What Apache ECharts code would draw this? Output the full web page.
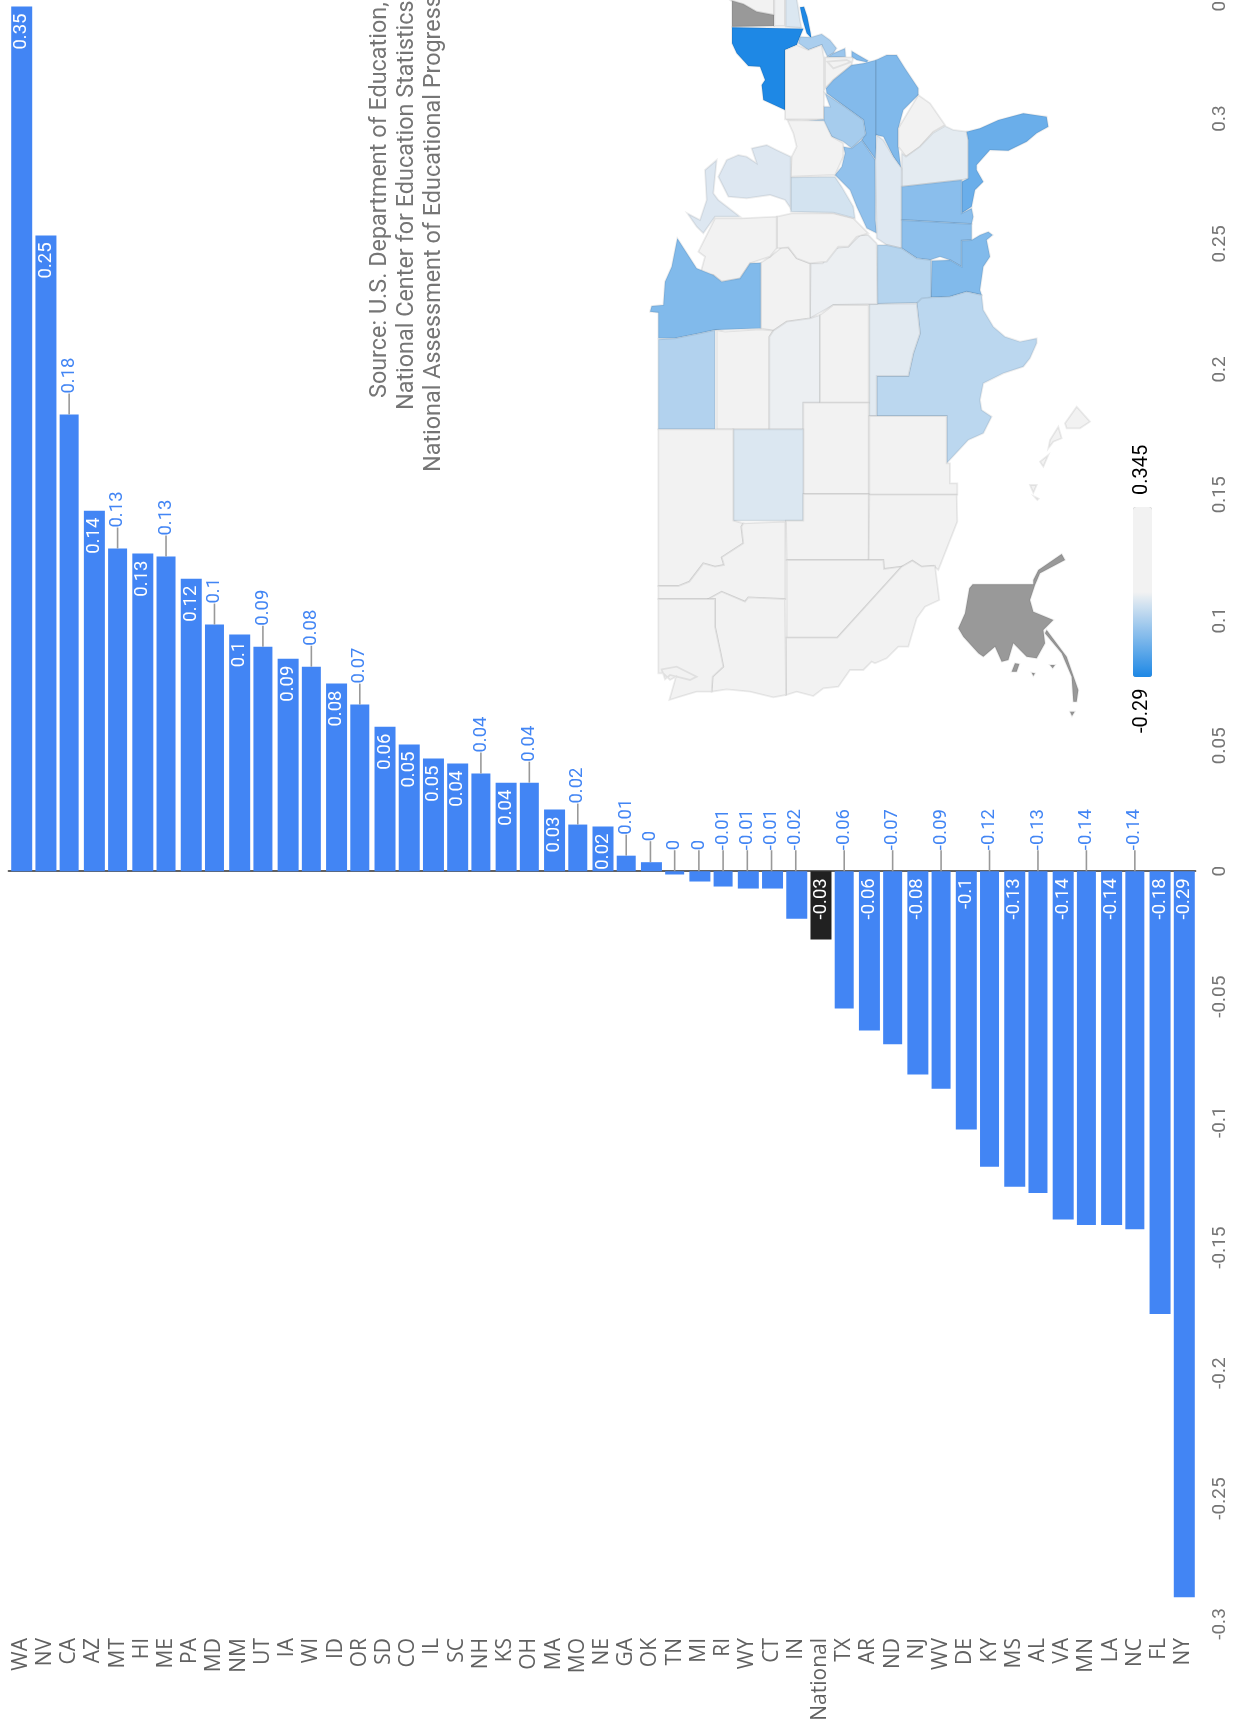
<!DOCTYPE html>
<html>
<head>
<meta charset="utf-8">
<title>State score change</title>
<script src="https://cdn.jsdelivr.net/npm/echarts@6/dist/echarts.min.js"></script>
<style>
  html, body { margin: 0; background: #fff; }
  #chart { width: 1238px; height: 1722px; }
</style>
</head>
<body>
<div id="chart"></div>
<script>
const categories = ['WA','NV','CA','AZ','MT','HI','ME','PA','MD','NM','UT','IA','WI','ID','OR','SD','CO','IL','SC','NH','KS','OH','MA','MO','NE','GA','OK','TN','MI','RI','WY','CT','IN','National','TX','AR','ND','NJ','WV','DE','KY','MS','AL','VA','MN','LA','NC','FL','NY']
const values = [0.3446,0.2534,0.182,0.1437,0.1286,0.1266,0.1254,0.1166,0.0983,0.0943,0.0895,0.0847,0.0815,0.0748,0.0664,0.0576,0.0505,0.0449,0.0429,0.0389,0.0353,0.0353,0.0246,0.0186,0.0178,0.0062,0.0036,-0.0013,-0.0041,-0.0061,-0.0069,-0.0069,-0.0189,-0.0272,-0.0547,-0.0635,-0.069,-0.081,-0.0867,-0.1029,-0.1178,-0.1257,-0.1282,-0.1388,-0.141,-0.141,-0.1427,-0.1765,-0.2893]
const valueLabels = ['0.35','0.25','0.18','0.14','0.13','0.13','0.13','0.12','0.1','0.1','0.09','0.09','0.08','0.08','0.07','0.06','0.05','0.05','0.04','0.04','0.04','0.04','0.03','0.02','0.02','0.01','0','0','0','-0.01','-0.01','-0.01','-0.02','-0.03','-0.06','-0.06','-0.07','-0.08','-0.09','-0.1','-0.12','-0.13','-0.13','-0.14','-0.14','-0.14','-0.14','-0.18','-0.29']
// labels drawn above the bar on a stem
const stemmed = ['CA','MT','ME','MD','UT','WI','OR','NH','OH','MO','GA','OK','TN','MI','RI','WY','CT','IN','TX','ND','WV','KY','AL','MN','NC']
// these come out a little thinner in the picture
const thinBars = ['CA','MT','ME','MD','UT','WI','OR','NH','OH','MO','GA','TN','RI','TX','ND','WV','KY','AL','MN','NC']
const highlighted = 'National'

const sourceLines = ['Source: U.S. Department of Education,', 'National Center for Education Statistics,', 'National Assessment of Educational Progress']
const legendMin = -0.29
const legendMax = 0.345

// state outlines (north points left)
const stateOutlines = {
  NH: [[[385,-4],[522,-4],[522,45],[470,35],[430,12],[392,2]]],
  VT: [[[396,2],[430,12],[470,35],[522,45],[522,78],[396,80]]],
  MA: [[[523,-4],[555,-4],[555,78],[523,78]]],
  CT: [[[557,-4],[590,-4],[595,25],[600,60],[605,84],[557,80]]],
  NY: [[[396,82],[610,86],[600,110],[590,135],[555,150],[555,330],[490,300],[485,255],[495,240],[480,200],[445,198],[410,160],[396,130]],
       [[600,22],[612,20],[622,50],[632,100],[634,115],[620,100],[608,60]]],
  NJ: [[[600,110],[632,112],[665,102],[690,120],[710,145],[700,160],[682,170],[665,135],[625,150],[595,130]]],
  DE: [[[700,160],[735,145],[737,170],[682,172]]],
  PA: [[[555,150],[590,135],[625,150],[665,135],[672,175],[672,358],[555,358]]],
  MD: [[[675,172],[737,172],[760,172],[755,195],[700,240],[675,265]],[[682,185],[740,180],[752,186],[700,205]]],
  VA: [[[828,180],[790,190],[755,195],[700,240],[678,265],[680,280],[735,320],[790,360],[797,400],[785,420],[828,480]],
       [[755,153],[775,165],[805,182],[800,187],[770,180],[755,170]]],
  NC: [[[828,180],[860,165],[890,165],[915,205],[955,265],[955,285],[910,330],[895,385],[895,440],[903,505],[880,470],[850,410],[828,405]]],
  SC: [[[895,385],[955,285],[990,310],[1035,375],[1000,395],[960,440],[918,470],[895,440]]],
  GA: [[[905,560],[1085,540],[1105,535],[1105,420],[1100,395],[1060,390],[1035,378],[1000,398],[960,440],[918,470],[905,460]]],
  FL: [[[1100,395],[1140,385],[1195,360],[1270,340],[1340,350],[1345,380],[1310,400],[1280,425],[1225,452],[1170,450],[1130,495],[1130,510],[1150,545],[1125,570],[1115,620],[1085,640],[1085,545],[1105,535],[1105,420]]],
  WV: [[[675,280],[735,320],[790,360],[797,405],[755,445],[730,425],[695,410],[672,370],[625,362],[672,358],[672,320],[690,320]]],
  KY: [[[730,440],[755,445],[785,420],[826,480],[826,660],[830,700],[800,685],[770,620],[750,570],[705,525],[725,500],[735,460]]],
  TN: [[[830,405],[850,420],[880,470],[905,505],[905,745],[860,735],[830,715],[826,480]]],
  AL: [[[905,560],[1085,540],[1085,640],[1115,625],[1120,650],[1115,672],[905,660]]],
  MS: [[[905,660],[1115,672],[1115,720],[1085,722],[1085,800],[1050,780],[1020,770],[990,780],[950,775],[905,745]]],
  LA: [[[995,782],[1050,780],[1085,800],[1085,722],[1115,720],[1140,705],[1165,695],[1178,705],[1160,720],[1170,770],[1150,800],[1140,870],[1145,885],[1100,875],[1050,890],[993,892]]],
  AR: [[[832,735],[860,735],[905,745],[950,775],[993,780],[993,892],[960,908],[832,912]]],
  TX: [[[950,910],[965,895],[993,892],[1050,890],[1100,875],[1145,885],[1150,930],[1180,980],[1215,1010],[1260,1025],[1310,1015],[1310,1030],[1290,1075],[1270,1100],[1210,1120],[1150,1150],[1140,1200],[1145,1230],[1175,1250],[1150,1300],[1105,1320],[1040,1390],[1040,1248],[830,1248],[830,1128],[925,1128],[940,1060],[960,1000]]],
  OK: [[[808,912],[950,910],[960,1000],[940,1060],[925,1128],[830,1128],[830,1248],[808,1248]]],
  MO: [[[632,790],[668,790],[700,745],[745,740],[780,705],[805,705],[830,730],[832,912],[700,915],[665,935],[630,955]]],
  IA: [[[482,788],[510,770],[545,742],[565,742],[590,775],[630,790],[630,955],[560,965],[520,992],[482,985]]],
  IL: [[[530,650],[575,640],[700,640],[760,655],[805,700],[770,710],[745,740],[715,740],[680,785],[630,790],[590,775],[565,742],[530,745]]],
  IN: [[[572,532],[705,530],[725,560],[760,620],[765,655],[700,638],[572,635]]],
  OH: [[[575,470],[590,440],[580,400],[562,360],[672,362],[695,410],[730,430],[730,470],[705,525],[572,530]]],
  MI: [[[572,470],[530,450],[500,435],[455,445],[470,490],[440,470],[415,465],[380,480],[355,530],[385,590],[440,595],[510,585],[555,600],[572,625]],
       [[315,510],[350,480],[345,530],[340,580],[355,600],[420,650],[345,650],[310,700],[290,680],[262,640],[300,660],[320,600]]],
  WI: [[[345,655],[425,655],[530,650],[530,745],[510,770],[450,790],[420,835],[365,845],[340,825],[300,825],[315,770],[295,755]]],
  MN: [[[232,715],[290,805],[340,825],[365,845],[420,835],[450,790],[482,788],[482,985],[345,990],[300,1000],[225,1015],[175,1015],[175,938],[150,935],[155,918],[190,915],[195,845],[215,800]]],
  ND: [[[175,1018],[225,1015],[300,1000],[345,990],[345,1288],[175,1288]]],
  SD: [[[350,990],[375,995],[480,988],[520,992],[508,1010],[508,1288],[350,1288]]],
  NE: [[[508,1010],[520,992],[560,965],[630,955],[660,945],[660,1208],[610,1208],[610,1288],[508,1288]]],
  KS: [[[660,945],[700,915],[806,915],[806,1208],[660,1208]]],
  CO: [[[610,1208],[806,1208],[806,1482],[610,1482]]],
  NM: [[[808,1248],[1040,1248],[1040,1390],[1050,1390],[1050,1450],[1072,1450],[1072,1484],[808,1484]]],
  WY: [[[400,1288],[610,1288],[610,1562],[400,1562]]],
  MT: [[[175,1288],[400,1288],[400,1562],[430,1570],[424,1580],[430,1630],[365,1672],[372,1695],[345,1700],[310,1690],[268,1745],[235,1758],[175,1758]]],
  ID: [[[175,1758],[235,1758],[268,1745],[310,1690],[345,1700],[372,1695],[365,1672],[430,1630],[424,1580],[430,1570],[556,1565],[556,1797],[445,1792],[435,1805],[365,1775],[325,1797],[175,1797]]],
  UT: [[[610,1482],[806,1482],[806,1680],[560,1680],[558,1562],[610,1562]]],
  AZ: [[[808,1484],[1070,1484],[1072,1565],[1015,1710],[1000,1697],[965,1700],[937,1682],[905,1700],[852,1707],[850,1680],[806,1680]]],
  NV: [[[560,1680],[806,1680],[850,1680],[852,1707],[905,1700],[712,1913],[560,1913]]],
  CA: [[[558,1913],[712,1913],[905,1700],[937,1682],[965,1700],[1005,1697],[1018,1800],[975,1820],[950,1855],[925,1940],[895,1940],[860,1975],[825,1990],[815,1985],[790,2010],[750,2010],[715,2060],[670,2065],[640,2088],[590,2075],[558,2085]]],
  OR: [[[325,1797],[365,1775],[435,1805],[445,1792],[555,1797],[558,2085],[520,2092],[450,2075],[380,2068],[335,2075],[338,2030],[370,2000],[362,1960],[345,1880],[345,1797]]],
  WA: [[[175,1797],[345,1797],[345,1880],[362,1960],[370,2000],[338,2030],[335,2075],[290,2075],[240,2090],[208,2100],[228,2030],[210,2040],[190,2020],[175,2020]],
       [[185,2008],[230,2000],[290,2030],[270,2040],[210,2025],[195,2038]]],
  AK: [[[1118,1753],[1300,1753],[1300,1740],[1315,1710],[1385,1662],[1395,1680],[1320,1720],[1305,1755],[1290,1800],[1300,1835],[1360,1860],[1330,1890],[1335,1930],[1310,1975],[1280,1970],[1240,1930],[1225,1980],[1205,1985],[1185,1940],[1150,1970],[1135,1960],[1090,1910],[1075,1885],[1095,1840],[1108,1765]],
       [[1340,1890],[1400,1970],[1435,2070],[1430,2105],[1420,2105],[1415,2030],[1385,1960],[1335,1900]],
       [[1245,1990],[1258,1992],[1250,2015],[1235,2015]],[[1295,2018],[1305,2020],[1300,2028]],[[1350,1995],[1365,1995],[1358,2005]],[[1410,2135],[1424,2135],[1416,2148]]],
  HI: [[[1395,1270],[1430,1220],[1470,1265],[1440,1285],[1400,1285]],
       [[1345,1345],[1350,1320],[1375,1280],[1385,1315],[1360,1325]],
       [[1320,1385],[1345,1365],[1330,1400]],
       [[1290,1455],[1310,1455],[1300,1478]],[[1303,1490],[1316,1496],[1312,1500]]]
}

const usaGeo = {
  type: 'FeatureCollection',
  features: Object.keys(stateOutlines).map(name => ({
    type: 'Feature',
    properties: { name },
    geometry: {
      type: 'MultiPolygon',
      coordinates: stateOutlines[name].map(ring => [ring.map(p => [p[0], -p[1]])])
    }
  }))
}
echarts.registerMap('usa', usaGeo)

const mapData = categories
  .map((name, i) => ({ name, value: values[i] }))
  .filter(d => d.name !== highlighted)

const BLUE = '#4285F4'

function barData(isThin) {
  return categories.map((name, i) => {
    if (thinBars.includes(name) !== isThin) return null
    return {
      value: values[i],
      itemStyle: name === highlighted ? { color: '#212121' } : undefined,
      label: { show: !stemmed.includes(name) }
    }
  })
}

const barLabel = {
  show: true,
  position: 'insideTop',
  distance: 7,
  rotate: 90,
  align: 'right',
  verticalAlign: 'middle',
  color: '#fff',
  fontFamily: 'Roboto',
  fontSize: 18.5,
  formatter: p => valueLabels[p.dataIndex]
}

const stemRows = categories
  .map((name, i) => ({ name, i }))
  .filter(d => stemmed.includes(d.name))
  .map(d => ({ value: [d.i, Math.max(values[d.i], 0)], text: valueLabels[d.i] }))

function renderStem(params, api) {
  const p = api.coord([api.value(0), api.value(1)])
  const stemTop = p[1] - 21
  return {
    type: 'group',
    children: [
      {
        type: 'line',
        shape: { x1: p[0], y1: p[1], x2: p[0], y2: stemTop },
        style: { stroke: '#999', lineWidth: 1.6 }
      },
      {
        type: 'text',
        x: p[0],
        y: stemTop,
        rotation: Math.PI / 2,
        style: {
          text: stemRows[params.dataIndex].text,
          fill: BLUE,
          font: '18.5px Roboto',
          align: 'left',
          verticalAlign: 'middle'
        }
      }
    ]
  }
}

function sideText(text, x, y, font, fill) {
  return {
    type: 'text',
    x,
    y,
    rotation: Math.PI / 2,
    silent: true,
    style: { text, font, fill, align: 'left', verticalAlign: 'middle' }
  }
}

const chart = echarts.init(document.getElementById('chart'))

chart.setOption({
  animation: false,
  backgroundColor: '#fff',
  grid: { left: 8.6, right: 42.6, top: -7, bottom: 98, outerBoundsMode: 'none' },
  xAxis: [
    {
      type: 'category',
      data: categories,
      axisLine: { onZero: true, lineStyle: { color: '#616161', width: 2 } },
      axisTick: { show: false },
      axisLabel: { show: false }
    },
    {
      type: 'category',
      data: categories,
      position: 'bottom',
      axisLine: { show: false, onZero: false },
      axisTick: { show: false },
      axisLabel: {
        interval: 0,
        rotate: 90,
        margin: 14,
        color: '#616161',
        fontFamily: 'Open Sans',
        fontSize: 21
      }
    }
  ],
  yAxis: {
    type: 'value',
    position: 'right',
    min: -0.3,
    max: 0.35,
    interval: 0.05,
    splitLine: { show: false },
    axisLine: { show: false },
    axisTick: { show: false },
    axisLabel: {
      rotate: 90,
      margin: 15,
      color: '#757575',
      fontFamily: 'Roboto',
      fontSize: 19
    }
  },
  visualMap: {
    type: 'continuous',
    seriesIndex: 3,
    min: legendMin,
    max: legendMax,
    left: 1133,
    top: 507,
    itemWidth: 19,
    itemHeight: 170,
    padding: 0,
    text: ['', ''],
    showLabel: false,
    calculable: false,
    hoverLink: false,
    inRange: { color: ['#1E88E5', '#F2F2F2', '#F2F2F2'] },
    outOfRange: { color: '#999999' }
  },
  series: [
    {
      name: 'wide',
      type: 'bar',
      barWidth: 21,
      barGap: '-100%',
      itemStyle: { color: BLUE },
      label: barLabel,
      data: barData(false)
    },
    {
      name: 'thin',
      type: 'bar',
      barWidth: 19,
      barGap: '-100%',
      itemStyle: { color: BLUE },
      label: barLabel,
      data: barData(true)
    },
    {
      type: 'custom',
      renderItem: renderStem,
      encode: { x: 0, y: 1 },
      data: stemRows,
      z: 3
    },
    {
      type: 'map',
      map: 'usa',
      aspectScale: 1,
      boundingCoords: [[0, 0], [1500, -2200]],
      left: 600,
      top: 0,
      width: 500,
      height: 733.33,
      silent: true,
      label: { show: false },
      itemStyle: { areaColor: '#999999', borderColor: 'rgba(0,0,0,0.07)', borderWidth: 1.8 },
      data: mapData
    }
  ],
  graphic: [
    sideText(sourceLines[0], 380, 398, '23.4px Roboto', '#757575'),
    sideText(sourceLines[1], 407, 410, '23.4px Roboto', '#757575'),
    sideText(sourceLines[2], 434, 472, '23.4px Roboto', '#757575'),
    sideText(String(legendMax), 1142, 495, '20px Roboto', '#000'),
    sideText(String(legendMin), 1142, 733, '20px Roboto', '#000')
  ]
})
</script>
</body>
</html>
